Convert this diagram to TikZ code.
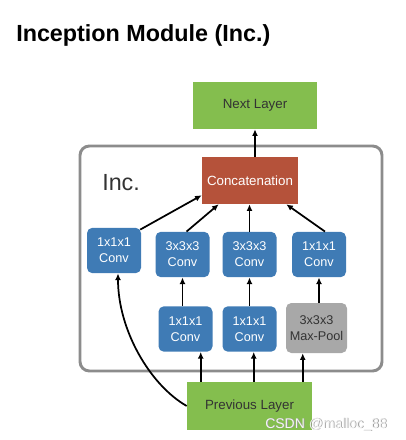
\documentclass[tikz,border=0pt]{standalone}
\usepackage{fontspec}
\setmainfont{Liberation Sans}
\usetikzlibrary{arrows.meta,calc}
\definecolor{greenC}{HTML}{84BE4E}
\definecolor{redC}{HTML}{B5523A}
\definecolor{blueC}{HTML}{3F7BB5}
\definecolor{grayC}{HTML}{A8A8A8}
\definecolor{frameC}{HTML}{8C8C8C}
\definecolor{darkT}{HTML}{333333}
\tikzset{
  layerbox/.style={fill=greenC, text=darkT, inner sep=0pt, font=\fontsize{10}{12}\selectfont},
  concatbox/.style={fill=redC, text=white, inner sep=0pt, font=\fontsize{10}{12}\selectfont},
  convbox/.style={fill=blueC, text=white, rounded corners=4pt, inner sep=0pt, align=center,
     minimum width=40.5pt, minimum height=34pt, font=\fontsize{9.5}{12}\selectfont},
  poolbox/.style={fill=grayC, text=darkT, rounded corners=4pt, inner sep=0pt, align=center,
     minimum width=45.75pt, minimum height=37.5pt, font=\fontsize{9.5}{12}\selectfont},
  arr/.style={line width=1.3pt, -{Latex[length=5pt,width=4.5pt]}},
  wmark/.style={anchor=base west, inner sep=0pt, font=\fontsize{10.5}{12}\selectfont},
}
\begin{document}
\begin{tikzpicture}[x=0.75pt,y=-0.75pt]
\useasboundingbox (0,0) rectangle (405,440);
% title
\node[anchor=base west, inner sep=0pt, font=\bfseries\fontsize{17.5}{20}\selectfont] (title) at (16,41) {Inception Module (Inc.)};
% frame
\draw[frameC, line width=2.2pt, rounded corners=7pt] (80,146) rectangle (382,371);
\node[anchor=base west, inner sep=0pt, text=darkT, font=\fontsize{17.5}{20}\selectfont] (inc) at (102,190) {Inc.};
% nodes
\node[layerbox, minimum width=93pt, minimum height=35.25pt] (next) at (255,105.5) {Next Layer};
\node[concatbox, minimum width=72pt, minimum height=35.25pt] (concat) at (250,180.5) {Concatenation};
\node[convbox] (b1) at (114,250.5) {1x1x1\\Conv};
\node[convbox] (b2) at (182.5,254.5) {3x3x3\\Conv};
\node[convbox] (b3) at (249.5,254.5) {3x3x3\\Conv};
\node[convbox] (b4) at (319,254.5) {1x1x1\\Conv};
\node[convbox] (b5) at (185.5,329) {1x1x1\\Conv};
\node[convbox] (b6) at (249.5,329) {1x1x1\\Conv};
\node[poolbox] (mp) at (316.5,328) {3x3x3\\Max-Pool};
\node[layerbox, minimum width=93.75pt, minimum height=36pt] (prev) at (249.5,406) {Previous Layer};
% connectors
\draw[arr] (concat.north -| next) -- (next.south);
\draw[arr] ($(b1.north east)+(-1,2)$) -- (concat.197);
\draw[arr] (b2.80) -- ($(concat.south west)+(17,0)$);
\draw[arr] (b3.north) -- (b3.north |- concat.south);
\draw[arr] ($(b4.north)+(6,0)$) -- ($(concat.south east)+(-12,0)$);
\draw[arr] (b2.south |- b5.north) -- (b2.south);
\draw[arr] (b6.north) -- (b6.north |- b3.south);
\draw[arr] (b4.south |- mp.north) -- (b4.south);
\coordinate (p5) at ($(prev.north west)+(14,0)$);
\coordinate (p6) at ($(prev.north west)+(67,0)$);
\coordinate (p7) at ($(prev.north west)+(116,0)$);
\draw[arr] (p5) -- (p5 |- b5.south);
\draw[arr] (p6) -- (p6 |- b6.south);
\draw[arr] (p7) -- (p7 |- mp.south);
\draw[arr] (prev.west) .. controls (150,385) and (118,330) .. ($(b1.south)+(4,0)$);
% watermark (light text with a grey shadow)
\node[wmark, text=gray!80] (wmshadow) at (265.8,428.8) {CSDN @malloc\_88};
\node[wmark, text=white!92!gray] (wm) at (265,428) {CSDN @malloc\_88};
\end{tikzpicture}
\end{document}
